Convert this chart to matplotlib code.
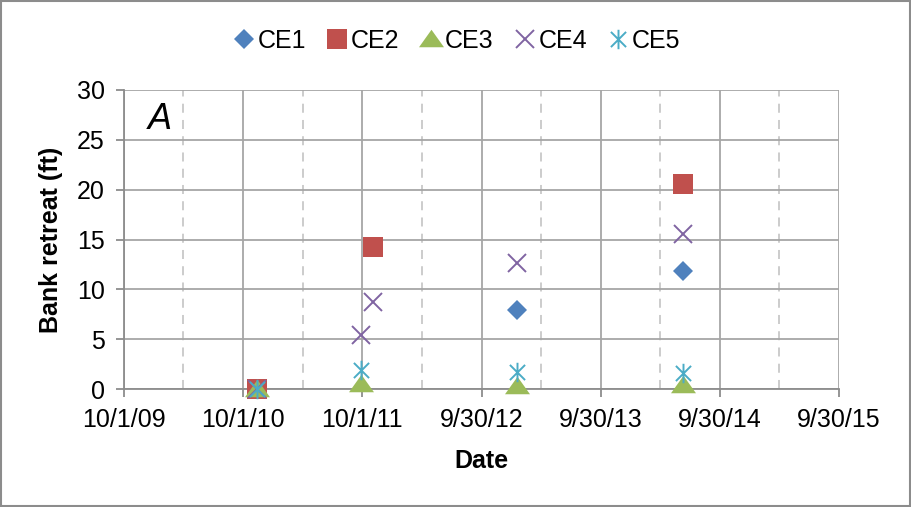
import datetime as dt
import matplotlib
matplotlib.use("Agg")
import matplotlib.pyplot as plt
import matplotlib.dates as mdates
from matplotlib.path import Path
from matplotlib.patches import Rectangle

plt.rcParams['font.family'] = ['Liberation Sans', 'DejaVu Sans']

# survey dates and bank retreat (ft)
ce1_dates = ["2010-11-13", "2013-01-18", "2014-06-08"]
ce1_vals = [0.0, 7.9, 11.8]
ce2_dates = ["2010-11-13", "2011-11-04", "2014-06-10"]
ce2_vals = [0.0, 14.2, 20.6]
ce3_dates = ["2010-11-13", "2011-09-28", "2013-01-18", "2014-06-08"]
ce3_vals = [0.0, 0.5, 0.35, 0.4]
ce4_dates = ["2010-11-13", "2011-09-28", "2011-11-04", "2013-01-18", "2014-06-08"]
ce4_vals = [0.0, 5.4, 8.7, 12.6, 15.6]
ce5_dates = ["2010-11-13", "2011-09-28", "2013-01-18", "2014-06-08"]
ce5_vals = [0.0, 1.9, 1.7, 1.6]

names = ["CE1", "CE2", "CE3", "CE4", "CE5"]
colors = ["#4F81BD", "#C0504D", "#9BBB59", "#8064A2", "#4BACC6"]

x_start = dt.date(2009, 10, 1)
n_years = 6
y_ticks = [0, 5, 10, 15, 20, 25, 30]

def to_dates(lst):
    return [dt.datetime.strptime(s, "%Y-%m-%d") for s in lst]

# Excel-ish markers
tri = [(-1, -0.62), (1, -0.62), (0, 0.78)]
star = Path([(0, -1), (0, 1), (-0.78, -0.78), (0.78, 0.78), (-0.78, 0.78), (0.78, -0.78)],
            [Path.MOVETO, Path.LINETO, Path.MOVETO, Path.LINETO, Path.MOVETO, Path.LINETO])

fig = plt.figure(figsize=(9.12, 5.07), dpi=100)
ax = fig.add_axes([0.136, 0.2327, 0.784, 0.5898])

series = [
    (ce1_dates, ce1_vals, dict(marker="D", markersize=10, markeredgewidth=0)),
    (ce2_dates, ce2_vals, dict(marker="s", markersize=14, markeredgewidth=0)),
    (ce3_dates, ce3_vals, dict(marker=tri, markersize=18, markeredgewidth=0)),
    (ce4_dates, ce4_vals, dict(marker="x", markersize=13, markeredgewidth=1.4)),
    (ce5_dates, ce5_vals, dict(marker=star, markersize=14, markeredgewidth=1.4, markerfacecolor="none")),
]
for (d, v, kw), name, c in zip(series, names, colors):
    ax.plot(to_dates(d), v, linestyle="none", color=c, label=name, clip_on=False, zorder=3, **kw)

major = [x_start + dt.timedelta(days=365 * k) for k in range(n_years + 1)]
minor = [x_start + dt.timedelta(days=365 * k + 182.5) for k in range(n_years)]
ax.set_xlim(mdates.date2num(major[0]), mdates.date2num(major[-1]))
ax.set_xticks(mdates.date2num(major))
ax.set_xticklabels(["%d/%d/%s" % (d.month, d.day, d.strftime("%y")) for d in major])
ax.set_xticks(mdates.date2num(minor), minor=True)
ax.set_ylim(0, 30)
ax.set_yticks(y_ticks)

ax.grid(True, which="major", color="#A6A6A6", linewidth=1.3)
ax.grid(True, which="minor", axis="x", color="#C8C8C8", linewidth=1.3, linestyle=(0, (5, 4)))
ax.set_axisbelow(True)
for s in ["top", "right"]:
    ax.spines[s].set_visible(False)
for s in ["left", "bottom"]:
    ax.spines[s].set_color("#8C8C8C")
    ax.spines[s].set_linewidth(1.3)
ax.tick_params(axis="both", which="major", length=6, width=1.3, color="#8C8C8C",
               labelsize=18, direction="out")
ax.tick_params(axis="x", which="major", pad=8)
ax.tick_params(axis="y", which="major", pad=8)
ax.tick_params(axis="x", which="minor", length=0)

ax.set_ylabel("Bank retreat (ft)", fontsize=18, fontweight="bold", labelpad=10)
ax.set_xlabel("Date", fontsize=18, fontweight="bold", labelpad=12)
ax.text(0.05, 0.90, "A", transform=ax.transAxes, fontsize=26, fontstyle="italic",
        ha="center", va="center")

fig.legend(loc="center", bbox_to_anchor=(0.5, 0.919), ncol=5, frameon=False,
           fontsize=18, handletextpad=0.05, columnspacing=0.75, handlelength=1.0,
           borderaxespad=0)

fig.patches.append(Rectangle((0.001, 0.002), 0.997, 0.996, transform=fig.transFigure,
                             fill=False, edgecolor="#8C8C8C", linewidth=1.5))

fig.savefig("out.png", dpi=100)
